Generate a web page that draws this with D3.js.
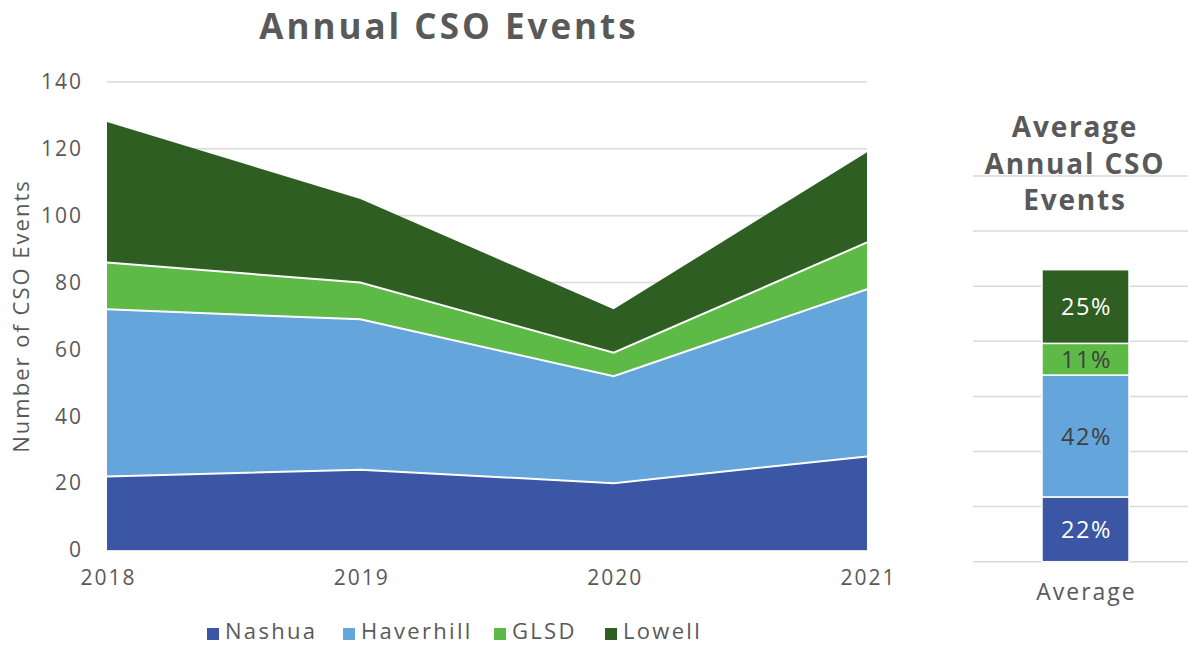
<!DOCTYPE html>
<html>
<head>
<meta charset="utf-8">
<script src="https://cdn.jsdelivr.net/npm/d3@7"></script>
<style>
  html, body { margin: 0; padding: 0; background: #fff; }
  svg { display: block; font-family: "Open Sans", "Noto Sans", sans-serif; }
</style>
</head>
<body>
<svg id="chart" width="1188" height="645"></svg>
<script>
// Annual CSO events per community
const years = ["2018", "2019", "2020", "2021"];
const seriesNames = ["Nashua", "Haverhill", "GLSD", "Lowell"];
const nashua = [22, 24, 20, 28];
const haverhill = [50, 45, 32, 50];
const glsd = [14, 11, 7, 14];
const lowell = [42, 25, 13, 27];
const yTicks = [0, 20, 40, 60, 80, 100, 120, 140];
const avgCategory = ["Average"];

const colors = {
  Nashua: "#3A56A5",
  Haverhill: "#64A5DB",
  GLSD: "#5DBA46",
  Lowell: "#2E5E21"
};
const textColor = "#595959";
const gridColor = "#d9d9d9";

const valuesByName = { Nashua: nashua, Haverhill: haverhill, GLSD: glsd, Lowell: lowell };
const rows = years.map((y, i) => {
  const r = { year: y };
  seriesNames.forEach(n => r[n] = valuesByName[n][i]);
  return r;
});

const svg = d3.select("#chart");

// ---------- Left: stacked area ----------
const x = d3.scalePoint().domain(years).range([107, 867]);
const y = d3.scaleLinear().domain([0, 140]).range([550, 82]);

svg.append("g").selectAll("line").data(yTicks).join("line")
  .attr("x1", 107).attr("x2", 867)
  .attr("y1", d => y(d)).attr("y2", d => y(d))
  .attr("stroke", gridColor).attr("stroke-width", 1.5);

const stack = d3.stack().keys(seriesNames);
const layers = stack(rows);

const area = d3.area()
  .x(d => x(d.data.year))
  .y0(d => y(d[0]))
  .y1(d => y(d[1]));
const topLine = d3.line()
  .x(d => x(d.data.year))
  .y(d => y(d[1]));

svg.append("g").selectAll("path").data(layers).join("path")
  .attr("d", area)
  .attr("fill", d => colors[d.key]);
svg.append("g").selectAll("path").data(layers.slice(0, -1)).join("path")
  .attr("d", topLine)
  .attr("fill", "none")
  .attr("stroke", "#fff").attr("stroke-width", 2);

// Y axis labels
const yAxis = d3.axisLeft(y).tickValues(yTicks).tickSize(0).tickPadding(0);
const yAx = svg.append("g").attr("transform", "translate(83,0)").call(yAxis);
yAx.select(".domain").remove();
yAx.selectAll("text").attr("fill", textColor).attr("font-size", 21)
  .attr("letter-spacing", 2)
  .attr("font-family", "Open Sans, sans-serif");

// X axis labels
const xAxis = d3.axisBottom(x).tickSize(0).tickPadding(0);
const xAx = svg.append("g").attr("transform", "translate(1,570)").call(xAxis);
xAx.select(".domain").remove();
xAx.selectAll("text").attr("fill", textColor).attr("font-size", 21)
  .attr("letter-spacing", 2)
  .attr("font-family", "Open Sans, sans-serif");

// Axis title
svg.append("text")
  .attr("transform", "translate(29,316) rotate(-90)")
  .attr("text-anchor", "middle")
  .attr("fill", textColor).attr("font-size", 22).attr("letter-spacing", 2)
  .text("Number of CSO Events");

// Chart title
svg.append("text")
  .attr("x", 449).attr("y", 39)
  .attr("text-anchor", "middle")
  .attr("fill", textColor).attr("font-size", 35).attr("font-weight", 700)
  .attr("letter-spacing", 3)
  .text("Annual CSO Events");

// Legend
const legendX = [207, 343, 494, 605];
const legend = svg.append("g").selectAll("g").data(seriesNames).join("g")
  .attr("transform", (d, i) => `translate(${legendX[i]},634.5)`);
legend.append("rect")
  .attr("x", 0).attr("y", -6.5).attr("width", 12).attr("height", 12)
  .attr("fill", d => colors[d]);
legend.append("text")
  .attr("x", 18).attr("y", 4.5)
  .attr("fill", textColor).attr("font-size", 22).attr("letter-spacing", 2.3)
  .text(d => d);

// ---------- Right: average stacked bar ----------
const averages = seriesNames.map(n => d3.mean(valuesByName[n]));
const avgTotal = d3.sum(averages);
const avgRow = { cat: avgCategory[0] };
seriesNames.forEach((n, i) => avgRow[n] = averages[i]);
const avgLayers = stack([avgRow]);

const x2 = d3.scaleBand().domain(avgCategory).range([973, 1198]).padding(0.4423);
const y2 = d3.scaleLinear().domain([0, 140]).range([561.7, 176]);

svg.append("g").selectAll("line").data(yTicks).join("line")
  .attr("x1", 973).attr("x2", 1198)
  .attr("y1", d => y2(d)).attr("y2", d => y2(d))
  .attr("stroke", gridColor).attr("stroke-width", 1.5);

const bars = svg.append("g").selectAll("g").data(avgLayers).join("g");
bars.append("rect")
  .attr("x", x2(avgCategory[0]))
  .attr("width", x2.bandwidth())
  .attr("y", d => y2(d[0][1]))
  .attr("height", d => y2(d[0][0]) - y2(d[0][1]))
  .attr("fill", d => colors[d.key])
  .attr("stroke", "#fff").attr("stroke-width", 1.5);
bars.append("text")
  .attr("x", x2(avgCategory[0]) + x2.bandwidth() / 2 + 1)
  .attr("y", d => (y2(d[0][0]) + y2(d[0][1])) / 2 + 8.5)
  .attr("text-anchor", "middle")
  .attr("font-size", 23.5).attr("letter-spacing", 1.5)
  .attr("fill", d => (d.key === "Haverhill" || d.key === "GLSD") ? "#404040" : "#fff")
  .text(d => Math.round((d[0][1] - d[0][0]) / avgTotal * 100) + "%");

svg.append("text")
  .attr("x", x2(avgCategory[0]) + x2.bandwidth() / 2 + 1).attr("y", 600)
  .attr("text-anchor", "middle")
  .attr("fill", textColor).attr("font-size", 23).attr("letter-spacing", 2)
  .text(avgCategory[0]);

const t2 = svg.append("text")
  .attr("text-anchor", "middle")
  .attr("fill", textColor).attr("font-size", 28).attr("font-weight", 700)
  .attr("letter-spacing", 1.8);
["Average", "Annual CSO", "Events"].forEach((s, i) => {
  t2.append("tspan").attr("x", 1075).attr("y", 137 + i * 36.5).text(s);
});
</script>
</body>
</html>
